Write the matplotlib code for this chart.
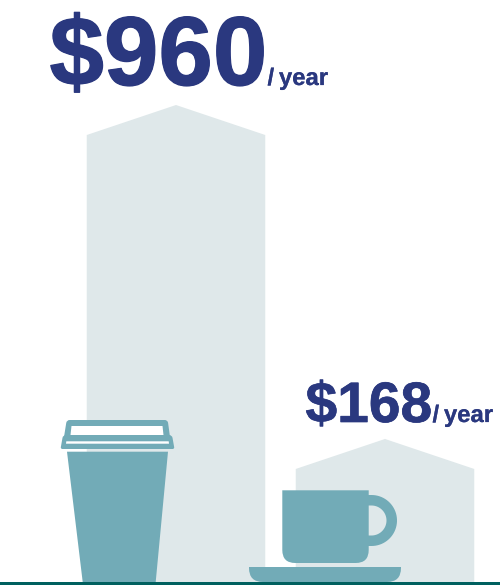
import numpy as np
import matplotlib
matplotlib.use("Agg")
from matplotlib import pyplot as plt
from matplotlib.path import Path
from matplotlib.patches import PathPatch, Polygon, Rectangle
import matplotlib.patheffects as pe

plt.rcParams['font.family'] = ['Liberation Sans', 'DejaVu Sans']

categories = ['to-go cup', 'home mug']
yearly_cost = [960, 168]
cost_labels = ['$960', '$168']
unit_label = '/\u2009year'

BAR_COLOR = '#dfe8ea'
ICON_COLOR = '#72abb7'
TEXT_COLOR = '#2a387f'
FLOOR_COLOR = '#00605f'

# bars use a compressed height scale so both fit with their icons
POWER = 0.691
SCALE = 477 / 960 ** POWER

def to_height(v):
    return SCALE * np.power(np.maximum(v, 0), POWER)

def from_height(h):
    return np.power(np.maximum(h, 0) / SCALE, 1 / POWER)

fig = plt.figure(figsize=(5, 5.85), dpi=100)

# Bars
ax = fig.add_axes([0, 3 / 585, 1, 582 / 585])
ax.set_yscale('function', functions=(to_height, from_height))
ax.set_ylim(0, from_height(582))
ax.set_xlim(-176 / 209, 324 / 209)
ax.axis('off')

bar_width = 178.5 / 209
roof = 30
for i, cost in enumerate(yearly_cost):
    shoulder = from_height(to_height(cost) - roof)
    left, right = i - bar_width / 2, i + bar_width / 2
    ax.add_patch(Polygon([(left, 0), (left, shoulder), (i, cost), (right, shoulder), (right, 0)],
                         closed=True, fc=BAR_COLOR, ec='none'))

# Icons and labels go on a pixel overlay
ov = fig.add_axes([0, 0, 1, 1])
ov.set_xlim(0, 500)
ov.set_ylim(585, 0)
ov.axis('off')
ov.patch.set_alpha(0)

def rounded_poly(pts, r):
    verts, codes = [], []
    n = len(pts)
    for k in range(n):
        p = np.array(pts[k], float)
        a = np.array(pts[k - 1], float)
        b = np.array(pts[(k + 1) % n], float)
        p1 = p + (a - p) / np.linalg.norm(a - p) * r[k]
        p2 = p + (b - p) / np.linalg.norm(b - p) * r[k]
        verts += [p1, p, p2]
        codes += [Path.LINETO, Path.CURVE3, Path.CURVE3]
    codes[0] = Path.MOVETO
    verts.append(verts[0])
    codes.append(Path.CLOSEPOLY)
    return Path(verts, codes)

def add_shape(pts, r, color=ICON_COLOR):
    ov.add_patch(PathPatch(rounded_poly(pts, r), fc=color, ec='none'))

# Paper cup
add_shape([(82.7, 582), (67, 451.7), (168, 451.7), (155.7, 582)], [0.01] * 4)
add_shape([(64, 437), (66.7, 420), (167.7, 420), (170, 437)], [0.01, 3, 3, 0.01])
add_shape([(63, 435), (172, 435), (174.5, 449), (60.5, 449)], [3, 3, 2, 2])
ov.add_patch(Polygon([(71.5, 426), (162.5, 426), (163.5, 435), (70.5, 435)], fc='white', ec='none'))
ov.add_patch(Polygon([(66.3, 441.3), (168.7, 441.3), (169, 443.7), (66, 443.7)], fc='white', ec='none'))

# Mug handle, then body and saucer on top of it
handle_verts = [(360, 495)]
handle_codes = [Path.MOVETO]
for t in np.radians(np.linspace(-90, 90, 40)):
    handle_verts.append((371.5 + 25.5 * np.cos(t), 520.5 + 25.5 * np.sin(t)))
    handle_codes.append(Path.LINETO)
handle_verts.append((360, 546))
handle_codes.append(Path.LINETO)
handle_verts.append((360, 535.5))
handle_codes.append(Path.LINETO)
for t in np.radians(np.linspace(90, -90, 40)):
    handle_verts.append((371.5 + 15 * np.cos(t), 520.5 + 15 * np.sin(t)))
    handle_codes.append(Path.LINETO)
handle_verts.append((360, 505.5))
handle_codes.append(Path.LINETO)
handle_verts.append((360, 495))
handle_codes.append(Path.CLOSEPOLY)
ov.add_patch(PathPatch(Path(handle_verts, handle_codes), fc=ICON_COLOR, ec='none'))
add_shape([(282.3, 490.3), (368.7, 490.3), (368.7, 563), (282.3, 563)], [0.01, 0.01, 13, 13])
add_shape([(249, 567), (401, 567), (401, 582), (249, 582)], [0.01, 0.01, 14, 14])

# Floor line
ov.add_patch(Rectangle((0, 582), 500, 3, fc=FLOOR_COLOR, ec='none'))

# Cost labels, thickened a little for a heavier bold
def add_label(x, y, s, size, stroke):
    t = ov.text(x, y, s, fontsize=size, fontweight='bold', color=TEXT_COLOR, va='baseline', ha='left')
    t.set_path_effects([pe.withStroke(linewidth=stroke, foreground=TEXT_COLOR)])

add_label(49.5, 85, cost_labels[0], 70.5, 0.9)
add_label(267.5, 85, unit_label, 17.2, 0.15)
add_label(305.5, 422, cost_labels[1], 41, 0.5)
add_label(432.5, 422, unit_label, 17.2, 0.15)

fig.savefig('out.png', dpi=100)
